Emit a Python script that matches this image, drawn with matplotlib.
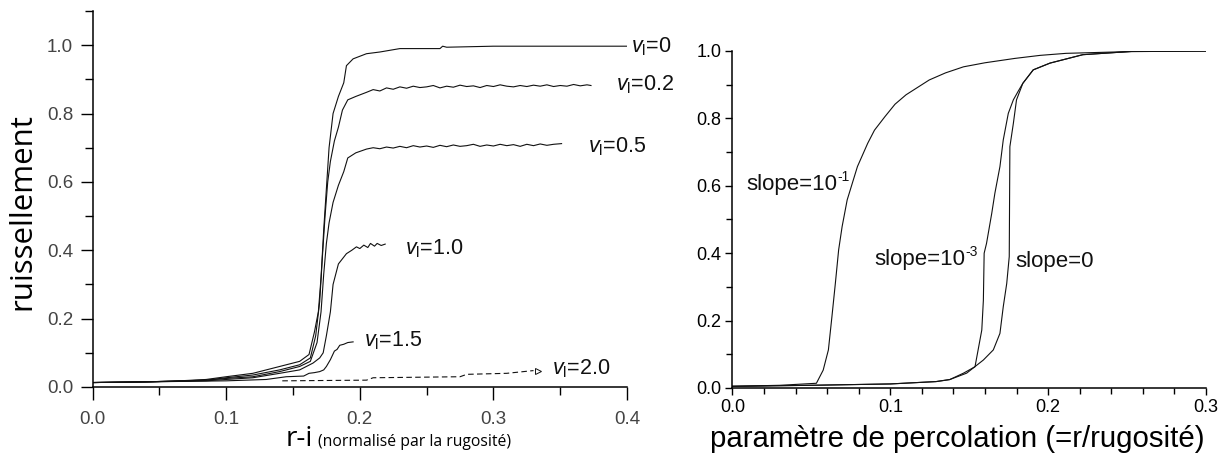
import matplotlib
matplotlib.use('Agg')
import matplotlib.pyplot as plt
from matplotlib.ticker import MultipleLocator, FormatStrFormatter

plt.rcParams['font.family'] = 'Liberation Sans'
plt.rcParams['mathtext.fontset'] = 'custom'
plt.rcParams['mathtext.rm'] = 'Liberation Sans'
plt.rcParams['mathtext.it'] = 'Liberation Sans:italic'

# ---- left panel: runoff vs (r - i) for several infiltration speeds v_l ----
v00_x = [0.0, 0.04, 0.06, 0.085, 0.10, 0.12, 0.14, 0.155, 0.162, 0.166, 0.169, 0.171, 0.173, 0.175,
         0.177, 0.180, 0.184, 0.188, 0.190, 0.195, 0.205, 0.215, 0.23, 0.26, 0.262, 0.265, 0.30, 0.40]
v00_y = [0.013, 0.015, 0.017, 0.022, 0.030, 0.040, 0.060, 0.075, 0.095, 0.16, 0.22, 0.32, 0.46, 0.58,
         0.70, 0.80, 0.85, 0.89, 0.94, 0.96, 0.975, 0.98, 0.99, 0.99, 0.997, 0.994, 0.997, 0.997]

v02_x = [0.0, 0.04, 0.085, 0.10, 0.12, 0.14, 0.155, 0.163, 0.167, 0.170, 0.172, 0.174, 0.176, 0.178,
         0.181, 0.184, 0.187, 0.191, 0.197, 0.205, 0.21, 0.215, 0.22, 0.225, 0.23, 0.235, 0.24, 0.245,
         0.25, 0.255, 0.26, 0.265, 0.27, 0.275, 0.28, 0.285, 0.29, 0.295, 0.30, 0.305, 0.31, 0.315,
         0.32, 0.325, 0.33, 0.335, 0.34, 0.345, 0.35, 0.355, 0.36, 0.365, 0.37, 0.373]
v02_y = [0.013, 0.015, 0.020, 0.027, 0.035, 0.050, 0.065, 0.085, 0.15, 0.25, 0.38, 0.50, 0.60, 0.66,
         0.72, 0.76, 0.81, 0.84, 0.85, 0.862, 0.870, 0.866, 0.875, 0.871, 0.878, 0.874, 0.880, 0.876,
         0.878, 0.882, 0.875, 0.880, 0.877, 0.883, 0.879, 0.881, 0.876, 0.882, 0.879, 0.884, 0.880,
         0.878, 0.882, 0.879, 0.883, 0.880, 0.884, 0.879, 0.882, 0.880, 0.885, 0.881, 0.884, 0.882]

v05_x = [0.0, 0.04, 0.085, 0.10, 0.12, 0.14, 0.155, 0.163, 0.168, 0.171, 0.173, 0.175, 0.177, 0.180,
         0.184, 0.188, 0.191, 0.197, 0.205, 0.21, 0.215, 0.22, 0.225, 0.23, 0.235, 0.24, 0.245, 0.25,
         0.255, 0.26, 0.265, 0.27, 0.275, 0.28, 0.285, 0.29, 0.295, 0.30, 0.305, 0.31, 0.315, 0.32,
         0.325, 0.33, 0.335, 0.34, 0.345, 0.351]
v05_y = [0.013, 0.015, 0.020, 0.025, 0.030, 0.045, 0.060, 0.075, 0.13, 0.22, 0.33, 0.42, 0.48, 0.54,
         0.59, 0.63, 0.67, 0.685, 0.696, 0.700, 0.697, 0.702, 0.699, 0.704, 0.700, 0.706, 0.702, 0.705,
         0.701, 0.707, 0.703, 0.708, 0.704, 0.706, 0.710, 0.704, 0.708, 0.705, 0.710, 0.706, 0.709,
         0.704, 0.710, 0.706, 0.711, 0.707, 0.710, 0.712]

v10_x = [0.0, 0.04, 0.085, 0.10, 0.12, 0.14, 0.155, 0.165, 0.170, 0.1726, 0.175, 0.178, 0.180, 0.182,
         0.184, 0.187, 0.190, 0.194, 0.1975, 0.200, 0.203, 0.206, 0.208, 0.211, 0.213, 0.216, 0.219]
v10_y = [0.013, 0.015, 0.018, 0.022, 0.027, 0.040, 0.050, 0.070, 0.085, 0.10, 0.15, 0.22, 0.30, 0.33,
         0.36, 0.375, 0.39, 0.40, 0.41, 0.405, 0.415, 0.408, 0.420, 0.412, 0.420, 0.414, 0.418]

v15_x = [0.0, 0.04, 0.10, 0.13, 0.145, 0.158, 0.162, 0.166, 0.170, 0.173, 0.175, 0.178, 0.181,
         0.183, 0.185, 0.188, 0.191, 0.195]
v15_y = [0.013, 0.015, 0.018, 0.022, 0.030, 0.032, 0.040, 0.042, 0.045, 0.050, 0.060, 0.080, 0.105,
         0.110, 0.122, 0.125, 0.130, 0.132]

v20_x = [0.142, 0.205, 0.21, 0.275, 0.28, 0.31, 0.33]
v20_y = [0.018, 0.020, 0.027, 0.030, 0.037, 0.040, 0.048]

vl_labels = ['0', '0.2', '0.5', '1.0', '1.5', '2.0']
vl_label_x = [0.403, 0.392, 0.371, 0.234, 0.203, 0.344]
vl_label_y = [0.978, 0.867, 0.687, 0.389, 0.118, 0.036]

# ---- right panel: runoff vs percolation parameter for three slopes ----
s1_x = [0.0, 0.03, 0.0532, 0.0575, 0.0608, 0.063, 0.0652, 0.0673, 0.0695, 0.0727, 0.0792, 0.0857,
        0.09, 0.0966, 0.103, 0.11, 0.1247, 0.135, 0.1464, 0.16, 0.179, 0.195, 0.2114, 0.25, 0.3]
s1_y = [0.005, 0.008, 0.014, 0.053, 0.113, 0.21, 0.31, 0.41, 0.479, 0.558, 0.657, 0.726,
        0.765, 0.805, 0.842, 0.870, 0.914, 0.935, 0.953, 0.965, 0.978, 0.987, 0.993, 0.998, 1.0]

s3_x = [0.0, 0.05, 0.1, 0.129, 0.1377, 0.1464, 0.1537, 0.158, 0.159, 0.1595, 0.161, 0.1643, 0.1663,
        0.1695, 0.1716, 0.1748, 0.178, 0.181, 0.184, 0.1906, 0.2012, 0.222, 0.254, 0.3]
s3_y = [0.005, 0.008, 0.012, 0.019, 0.025, 0.044, 0.063, 0.172, 0.26, 0.40, 0.429, 0.518, 0.578,
        0.657, 0.736, 0.815, 0.855, 0.88, 0.904, 0.944, 0.964, 0.989, 0.999, 1.0]

s0_x = [0.0, 0.05, 0.1, 0.129, 0.1377, 0.1484, 0.159, 0.1653, 0.1695, 0.1716, 0.1738, 0.1754, 0.1758,
        0.178, 0.18, 0.184, 0.1906, 0.2012, 0.222, 0.254, 0.3]
s0_y = [0.005, 0.008, 0.012, 0.019, 0.025, 0.044, 0.083, 0.113, 0.162, 0.241, 0.31, 0.39, 0.716,
        0.785, 0.855, 0.904, 0.944, 0.964, 0.989, 0.999, 1.0]

slope_labels = ['slope=10', 'slope=10', 'slope=0']
slope_exps = ['-1', '-3', '']
slope_label_x = [0.009, 0.090, 0.179]
slope_label_y = [0.588, 0.365, 0.359]

fig = plt.figure(figsize=(12.24, 4.54), dpi=100)
ax1 = fig.add_axes([0.0756, 0.1476, 0.4367, 0.8282])
ax2 = fig.add_axes([0.5984, 0.1454, 0.3868, 0.7423])

line_kw = dict(color='#111111', lw=0.8)
for xs, ys in [(v00_x, v00_y), (v02_x, v02_y), (v05_x, v05_y), (v10_x, v10_y), (v15_x, v15_y)]:
    ax1.plot(xs, ys, **line_kw)
ax1.plot(v20_x, v20_y, ls=(0, (5, 3)), **line_kw)
ax1.plot(v20_x[-1] + 0.003, v20_y[-1], marker='>', ms=4, mfc='white', mec='#111111', mew=0.7)

for lab, lx, ly in zip(vl_labels, vl_label_x, vl_label_y):
    ax1.text(lx, ly, r'$v_{\mathrm{l}}$=' + lab, fontsize=15.5, va='baseline', ha='left', color='#111111')

ax1.set_xlim(0, 0.4)
ax1.set_ylim(0, 1.1)
ax1.xaxis.set_major_locator(MultipleLocator(0.1))
ax1.xaxis.set_minor_locator(MultipleLocator(0.05))
ax1.yaxis.set_major_locator(MultipleLocator(0.2))
ax1.yaxis.set_minor_locator(MultipleLocator(0.1))
ax1.xaxis.set_major_formatter(FormatStrFormatter('%.1f'))
ax1.yaxis.set_major_formatter(FormatStrFormatter('%.1f'))
ax1.tick_params(which='major', direction='out', length=9, width=1, labelsize=13.5, labelcolor='#444444')
ax1.tick_params(which='minor', direction='out', length=6, width=1)
ax1.tick_params(axis='x', which='major', pad=8)
ax1.tick_params(axis='y', which='major', pad=5)

ax2.plot(s1_x, s1_y, **line_kw)
ax2.plot(s3_x, s3_y, **line_kw)
ax2.plot(s0_x, s0_y, **line_kw)

for lab, ex, lx, ly in zip(slope_labels, slope_exps, slope_label_x, slope_label_y):
    t = ax2.text(lx, ly, lab, fontsize=16, va='baseline', ha='left', color='#111111')
    if ex:
        # small raised exponent drawn right after the main label
        ax2.annotate(ex, xy=(1.0, 1.0), xycoords=t, xytext=(0, 3), textcoords='offset points',
                     fontsize=10, ha='left', va='top', color='#111111')

ax2.set_xlim(0, 0.3)
ax2.set_ylim(0, 1.0)
ax2.xaxis.set_major_locator(MultipleLocator(0.1))
ax2.xaxis.set_minor_locator(MultipleLocator(0.02))
ax2.yaxis.set_major_locator(MultipleLocator(0.2))
ax2.yaxis.set_minor_locator(MultipleLocator(0.1))
ax2.xaxis.set_major_formatter(FormatStrFormatter('%.1f'))
ax2.yaxis.set_major_formatter(FormatStrFormatter('%.1f'))
ax2.tick_params(which='major', direction='out', length=5, width=1, labelsize=13, pad=3)
ax2.tick_params(which='minor', direction='out', length=4, width=1)

for ax in (ax1, ax2):
    ax.spines['top'].set_visible(False)
    ax.spines['right'].set_visible(False)
    ax.spines['left'].set_linewidth(1.1)
    ax.spines['bottom'].set_linewidth(1.1)

# axis titles, placed in figure pixels
W, H = 1224.0, 454.0
fig.text(22 / W, 1 - 212 / H, 'ruissellement', family='Open Sans', fontsize=22.5,
         rotation=90, ha='center', va='center')
fig.text(286 / W, 1 - 446 / H, 'r-i', family='Open Sans', fontsize=20, ha='left', va='baseline')
fig.text(318 / W, 1 - 446 / H, '(normalisé par la rugosité)', family='Open Sans', fontsize=11.3,
         ha='left', va='baseline')
fig.text(957 / W, 1 - 447 / H, 'paramètre de percolation (=r/rugosité)', fontsize=21.2,
         ha='center', va='baseline')

fig.savefig('out.png', dpi=100)
